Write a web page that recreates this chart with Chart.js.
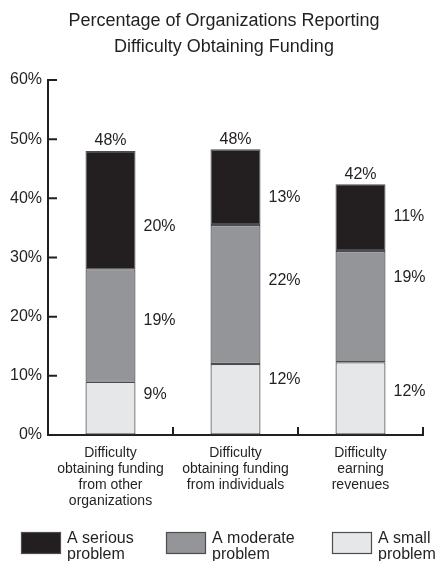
<!DOCTYPE html>
<html>
<head>
<meta charset="utf-8">
<script src="https://cdn.jsdelivr.net/npm/chart.js@4.4.1/dist/chart.umd.min.js"></script>
<style>
  body { margin: 0; background: #fff; }
  #wrap { width: 438px; height: 561px; position: relative; }
</style>
</head>
<body>
<div id="wrap"><canvas id="myChart"></canvas></div>
<script>
const categories = [
  ['Difficulty', 'obtaining funding', 'from other', 'organizations'],
  ['Difficulty', 'obtaining funding', 'from individuals'],
  ['Difficulty', 'earning', 'revenues']
]
const small = [9.0, 12.0, 12.3]
const moderate = [19.0, 23.5, 18.8]
const serious = [20.0, 12.8, 11.3]
const smallLabels = ['9%', '12%', '12%']
const moderateLabels = ['19%', '22%', '19%']
const seriousLabels = ['20%', '13%', '11%']
const totalLabels = ['48%', '48%', '42%']
const yTicks = [0, 10, 20, 30, 40, 50, 60]

const FONT = "'Liberation Sans', Arial, sans-serif"
const INK = '#231f20'

// segment labels sit beside the bar, nudged like in the original print
const segmentLabels = {
  id: 'segmentLabels',
  afterDatasetsDraw(chart, args, opts) {
    const ctx = chart.ctx
    ctx.save()
    ctx.font = '16px ' + FONT
    ctx.fillStyle = INK
    ctx.textBaseline = 'middle'
    chart.data.datasets.forEach((ds, di) => {
      const meta = chart.getDatasetMeta(di)
      meta.data.forEach((bar, i) => {
        ctx.textAlign = 'left'
        const y = (bar.y + bar.base) / 2 + opts.shift[di][i]
        ctx.fillText(ds.valueLabels[i], bar.x + bar.width / 2 + 8, y)
      })
    })
    const top = chart.getDatasetMeta(chart.data.datasets.length - 1)
    ctx.textAlign = 'center'
    top.data.forEach((bar, i) => {
      ctx.fillText(totalLabels[i], bar.x, bar.y - 10)
    })
    ctx.restore()
  }
}

// tick marks point into the plot area
const innerTicks = {
  id: 'innerTicks',
  afterDraw(chart) {
    const ctx = chart.ctx
    const x = chart.scales.x
    const y = chart.scales.y
    ctx.save()
    ctx.strokeStyle = INK
    ctx.lineWidth = 2
    ctx.beginPath()
    yTicks.forEach(v => {
      const py = y.getPixelForValue(v)
      ctx.moveTo(x.left, py)
      ctx.lineTo(x.left + 9, py)
    })
    categories.forEach((c, i) => {
      const px = x.getPixelForValue(i + 0.5)
      ctx.moveTo(px, y.bottom)
      ctx.lineTo(px, y.bottom - 8)
    })
    ctx.stroke()
    ctx.restore()
  }
}

// title is centred a little right of the canvas middle
const titleShift = {
  id: 'titleShift',
  afterLayout(chart) {
    chart.titleBlock.left += 25
  }
}

const boxLegend = {
  id: 'boxLegend',
  afterDraw(chart) {
    const ctx = chart.ctx
    const items = [
      { ds: 2, x: 21, text: ['A serious', 'problem'] },
      { ds: 1, x: 166, text: ['A moderate', 'problem'] },
      { ds: 0, x: 332, text: ['A small', 'problem'] }
    ]
    ctx.save()
    items.forEach(it => {
      const ds = chart.data.datasets[it.ds]
      ctx.fillStyle = ds.backgroundColor
      ctx.fillRect(it.x, 532, 40, 22)
      ctx.strokeStyle = ds.borderColor
      ctx.lineWidth = 1.2
      ctx.strokeRect(it.x + 0.5, 532.5, 39, 21)
      ctx.fillStyle = INK
      ctx.font = '16px ' + FONT
      ctx.textAlign = 'left'
      ctx.textBaseline = 'middle'
      ctx.fillText(it.text[0], it.x + 46, 539)
      ctx.fillText(it.text[1], it.x + 46, 555)
    })
    ctx.restore()
  }
}

new Chart(document.getElementById('myChart'), {
  type: 'bar',
  data: {
    labels: categories,
    datasets: [{
      label: 'A small problem',
      data: small,
      valueLabels: smallLabels,
      backgroundColor: '#e6e7e8',
      borderColor: '#4d4d4f',
      borderWidth: 1.2,
      borderSkipped: false
    }, {
      label: 'A moderate problem',
      data: moderate,
      valueLabels: moderateLabels,
      backgroundColor: '#939598',
      borderColor: '#4d4d4f',
      borderWidth: 1.2,
      borderSkipped: false
    }, {
      label: 'A serious problem',
      data: serious,
      valueLabels: seriousLabels,
      backgroundColor: INK,
      borderColor: '#4d4d4f',
      borderWidth: 1.2,
      borderSkipped: false
    }]
  },
  options: {
    responsive: true,
    maintainAspectRatio: false,
    animation: false,
    categoryPercentage: 1,
    barPercentage: 0.4,
    layout: { padding: { left: 0, right: 15, top: 0, bottom: 46 } },
    plugins: {
      legend: { display: false },
      tooltip: { enabled: false },
      title: {
        display: true,
        text: ['Percentage of Organizations Reporting', 'Difficulty Obtaining Funding'],
        color: INK,
        font: { family: FONT, size: 18, weight: 'normal', lineHeight: 26 / 18 },
        padding: { top: 8, bottom: 20 }
      },
      segmentLabels: {
        shift: [[-14, -20, -7], [-5, -14, -29], [16, 11, -1]]
      }
    },
    scales: {
      x: {
        stacked: true,
        grid: { display: true, drawOnChartArea: false, drawTicks: false },
        border: { color: INK, width: 2 },
        ticks: {
          color: INK,
          padding: 10,
          maxRotation: 0,
          font: { family: FONT, size: 14, lineHeight: 16 / 14 }
        },
        afterFit(scale) { scale.height = 80 }
      },
      y: {
        stacked: true,
        min: 0,
        max: 60,
        grid: { display: true, drawOnChartArea: false, drawTicks: false },
        border: { color: INK, width: 2 },
        ticks: {
          stepSize: 10,
          color: INK,
          padding: 6,
          font: { family: FONT, size: 16 },
          callback: v => v + '%'
        },
        afterFit(scale) { scale.width = 48 }
      }
    }
  },
  plugins: [segmentLabels, innerTicks, titleShift, boxLegend]
})
</script>
</body>
</html>
